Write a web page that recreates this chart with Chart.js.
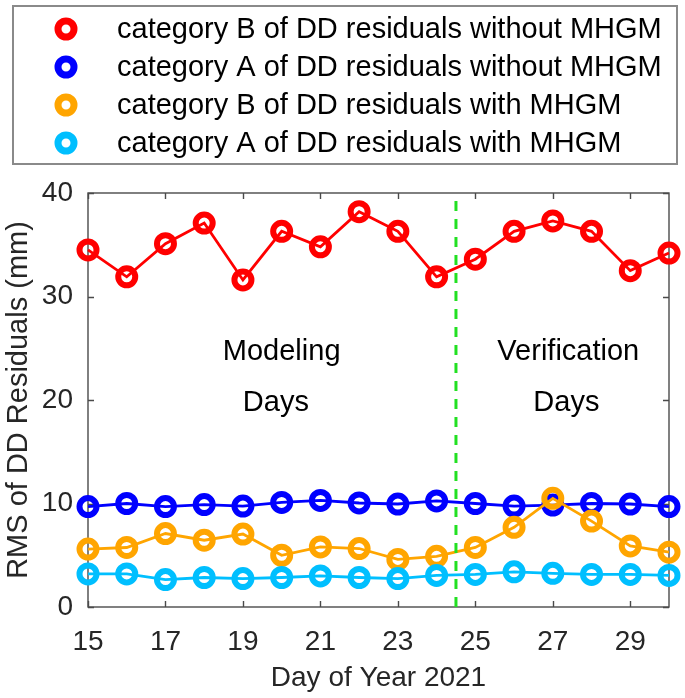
<!DOCTYPE html>
<html>
<head>
<meta charset="utf-8">
<script src="https://cdn.jsdelivr.net/npm/chart.js@4.4.1/dist/chart.umd.min.js"></script>
<style>
    body { margin: 0; background: #fff; }
</style>
</head>
<body>
<canvas id="rms-chart" width="685" height="698"></canvas>
<script>
var days = [15, 16, 17, 18, 19, 20, 21, 22, 23, 24, 25, 26, 27, 28, 29, 30];
var catBWithout = [34.5, 31.9, 35.1, 37.1, 31.6, 36.3, 34.8, 38.2, 36.3, 31.9, 33.6, 36.3, 37.3, 36.3, 32.5, 34.2];
var catAWithout = [9.7, 10.0, 9.7, 9.9, 9.75, 10.1, 10.3, 10.05, 9.95, 10.25, 10.0, 9.75, 9.85, 10.0, 9.95, 9.7];
var catBWith = [5.6, 5.75, 7.1, 6.45, 7.05, 5.0, 5.8, 5.65, 4.6, 4.9, 5.75, 7.7, 10.5, 8.3, 5.9, 5.3];
var catAWith = [3.2, 3.2, 2.65, 2.85, 2.75, 2.85, 3.0, 2.85, 2.75, 3.05, 3.15, 3.4, 3.25, 3.15, 3.15, 3.05];

var seriesNames = [
    "category B of DD residuals without MHGM",
    "category A of DD residuals without MHGM",
    "category B of DD residuals with MHGM",
    "category A of DD residuals with MHGM"
];
var seriesColors = ["#ff0000", "#0000ff", "#ffa500", "#00bfff"];

var xTicks = [15, 17, 19, 21, 23, 25, 27, 29];
var yTicks = [0, 10, 20, 30, 40];
var splitDay = 24.5;

var FONT = "'Liberation Sans', Arial, Helvetica, sans-serif";
var AXIS_COLOR = "#262626";

function toPoints(values) {
    return days.map((d, i) => ({ x: d, y: values[i] }));
}

function seriesDataset(index, values, order) {
    return {
        label: seriesNames[index],
        data: toPoints(values),
        borderColor: seriesColors[index],
        borderWidth: 2.8,
        pointRadius: 8.5,
        pointBorderWidth: 6,
        pointBackgroundColor: "rgba(0,0,0,0)",
        pointBorderColor: seriesColors[index],
        clip: false,
        order: order
    };
}

// MATLAB style box with inward ticks
var matlabAxes = {
    id: 'matlabAxes',
    beforeDatasetsDraw(chart) {
        const ctx = chart.ctx;
        const a = chart.chartArea;
        const xs = chart.scales.x, ys = chart.scales.y;
        const tl = 6;
        ctx.save();
        ctx.strokeStyle = "#4a4a4a";
        ctx.lineWidth = 1.4;
        ctx.strokeRect(a.left, a.top, a.right - a.left, a.bottom - a.top);
        ctx.beginPath();
        xs.ticks.forEach(t => {
            let px = Math.round(xs.getPixelForValue(t.value)) + 0.5;
            ctx.moveTo(px, a.bottom); ctx.lineTo(px, a.bottom - tl);
            ctx.moveTo(px, a.top); ctx.lineTo(px, a.top + tl);
        });
        ys.ticks.forEach(t => {
            let py = Math.round(ys.getPixelForValue(t.value)) + 0.5;
            ctx.moveTo(a.left, py); ctx.lineTo(a.left + tl, py);
            ctx.moveTo(a.right, py); ctx.lineTo(a.right - tl, py);
        });
        ctx.stroke();
        ctx.restore();
    }
};

var periodText = {
    id: 'periodText',
    afterDatasetsDraw(chart) {
        const ctx = chart.ctx;
        const xs = chart.scales.x, ys = chart.scales.y;
        ctx.save();
        ctx.font = "29px " + FONT;
        ctx.fillStyle = "#000";
        ctx.textAlign = "center";
        ctx.textBaseline = "middle";
        ctx.fillText("Modeling", xs.getPixelForValue(20.0), ys.getPixelForValue(24.6));
        ctx.fillText("Days", xs.getPixelForValue(19.85), ys.getPixelForValue(19.7));
        ctx.fillText("Verification", xs.getPixelForValue(27.4), ys.getPixelForValue(24.6));
        ctx.fillText("Days", xs.getPixelForValue(27.35), ys.getPixelForValue(19.7));
        ctx.restore();
    }
};

var boxLegend = {
    id: 'boxLegend',
    afterDraw(chart) {
        const ctx = chart.ctx;
        ctx.save();
        ctx.strokeStyle = "#8a8a8a";
        ctx.lineWidth = 2;
        ctx.strokeRect(13, 6, 664, 158);
        ctx.font = "29px " + FONT;
        ctx.textBaseline = "middle";
        ctx.fillStyle = "#000";
        seriesNames.forEach((name, i) => {
            let cy = 29 + i * 38;
            ctx.beginPath();
            ctx.arc(66, cy, 8, 0, Math.PI * 2);
            ctx.lineWidth = 7;
            ctx.strokeStyle = seriesColors[i];
            ctx.stroke();
            ctx.fillText(name, 117, cy + 1);
        });
        ctx.restore();
    }
};

new Chart(document.getElementById("rms-chart"), {
    type: 'line',
    data: {
        datasets: [
            {
                label: "split",
                data: [{ x: splitDay, y: 0 }, { x: splitDay, y: 40 }],
                borderColor: "#22e022",
                borderWidth: 3,
                borderDash: [10, 8],
                pointRadius: 0,
                order: 0
            },
            seriesDataset(0, catBWithout, 4),
            seriesDataset(1, catAWithout, 3),
            seriesDataset(2, catBWith, 2),
            seriesDataset(3, catAWith, 1)
        ]
    },
    options: {
        responsive: false,
        animation: false,
        devicePixelRatio: 1,
        events: [],
        layout: { padding: { top: 193, right: 16, bottom: 0, left: 0 } },
        plugins: { legend: { display: false }, tooltip: { enabled: false } },
        scales: {
            x: {
                type: 'linear',
                min: 15,
                max: 30,
                grid: { display: false, drawTicks: false },
                border: { display: false },
                afterBuildTicks: (scale) => { scale.ticks = xTicks.map(v => ({ value: v })); },
                afterFit: (scale) => { scale.height = 91; },
                ticks: { color: AXIS_COLOR, padding: 18, maxRotation: 0, font: { family: FONT, size: 28 } },
                title: {
                    display: true,
                    text: "Day of Year 2021",
                    color: AXIS_COLOR,
                    padding: { top: 0, bottom: 3 },
                    font: { family: FONT, size: 28 }
                }
            },
            y: {
                type: 'linear',
                min: 0,
                max: 40,
                grid: { display: false, drawTicks: false },
                border: { display: false },
                afterBuildTicks: (scale) => { scale.ticks = yTicks.map(v => ({ value: v })); },
                afterFit: (scale) => { scale.width = 88; },
                ticks: { color: AXIS_COLOR, padding: 15, font: { family: FONT, size: 28 } },
                title: {
                    display: true,
                    text: "RMS of DD Residuals (mm)",
                    color: AXIS_COLOR,
                    padding: { top: 2, bottom: 0 },
                    font: { family: FONT, size: 29 }
                }
            }
        }
    },
    plugins: [matlabAxes, periodText, boxLegend]
});
</script>
</body>
</html>
